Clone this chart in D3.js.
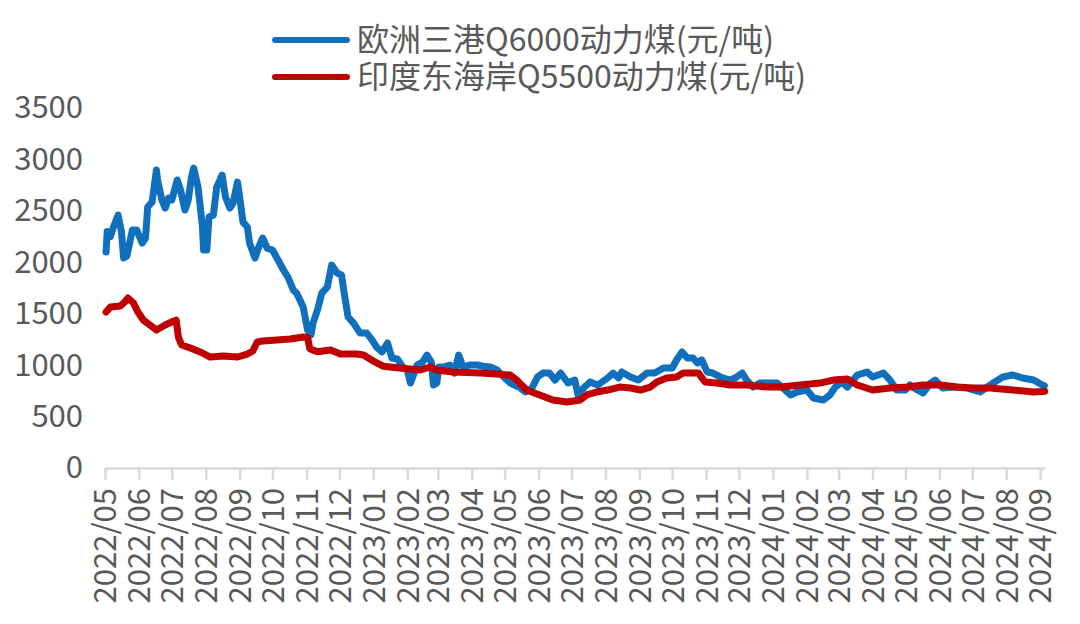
<!DOCTYPE html>
<html><head><meta charset="utf-8">
<script src="https://cdn.jsdelivr.net/npm/d3@7/dist/d3.min.js"></script>
<style>
html,body{margin:0;padding:0;background:#fff;}
svg{display:block;}
text{font-family:"Noto Sans CJK SC","Noto Sans",sans-serif;fill:#595959;}
</style></head>
<body><svg id="chart" width="1080" height="624"></svg>
<script>
const seriesNames = ["欧洲三港Q6000动力煤(元/吨)", "印度东海岸Q5500动力煤(元/吨)"];
const seriesColors = ["#1170BE", "#C00000"];
const yTicks = [0, 500, 1000, 1500, 2000, 2500, 3000, 3500];
const monthTicks = ["2022-05-01","2022-06-01","2022-07-01","2022-08-01","2022-09-01","2022-10-01","2022-11-01","2022-12-01",
"2023-01-01","2023-02-01","2023-03-01","2023-04-01","2023-05-01","2023-06-01","2023-07-01","2023-08-01","2023-09-01","2023-10-01","2023-11-01","2023-12-01",
"2024-01-01","2024-02-01","2024-03-01","2024-04-01","2024-05-01","2024-06-01","2024-07-01","2024-08-01","2024-09-01"];

const euroDates = ["2022-05-02","2022-05-03","2022-05-06","2022-05-08","2022-05-13","2022-05-16","2022-05-18","2022-05-21","2022-05-26","2022-05-30",
"2022-06-04","2022-06-07","2022-06-09","2022-06-13","2022-06-17","2022-06-18","2022-06-22","2022-06-25","2022-06-28",
"2022-07-01","2022-07-06","2022-07-09","2022-07-13","2022-07-16","2022-07-19","2022-07-21","2022-07-25","2022-07-29","2022-07-30",
"2022-08-02","2022-08-04","2022-08-08","2022-08-11","2022-08-16","2022-08-19","2022-08-23","2022-08-26","2022-08-30",
"2022-09-01","2022-09-04","2022-09-08","2022-09-10","2022-09-15","2022-09-18","2022-09-22","2022-09-26",
"2022-10-01","2022-10-06","2022-10-11","2022-10-15","2022-10-20","2022-10-23","2022-10-29",
"2022-11-02","2022-11-05","2022-11-07","2022-11-11","2022-11-15","2022-11-20","2022-11-24","2022-11-29",
"2022-12-03","2022-12-06","2022-12-09","2022-12-14","2022-12-20","2022-12-26","2022-12-31",
"2023-01-04","2023-01-09","2023-01-14","2023-01-18","2023-01-23","2023-01-28","2023-02-01",
"2023-02-04","2023-02-10","2023-02-15","2023-02-19","2023-02-23","2023-02-25","2023-02-28",
"2023-03-02","2023-03-06","2023-03-12","2023-03-16","2023-03-20","2023-03-24","2023-03-30",
"2023-04-06","2023-04-11","2023-04-18","2023-04-24","2023-04-30",
"2023-05-06","2023-05-14","2023-05-20","2023-05-26","2023-05-31",
"2023-06-05","2023-06-11","2023-06-16","2023-06-21","2023-06-28",
"2023-07-04","2023-07-07","2023-07-12","2023-07-18","2023-07-25",
"2023-08-03","2023-08-08","2023-08-13","2023-08-16","2023-08-24","2023-08-31",
"2023-09-08","2023-09-15","2023-09-23",
"2023-10-01","2023-10-05","2023-10-10","2023-10-15","2023-10-20","2023-10-24","2023-10-28",
"2023-11-02","2023-11-07","2023-11-16","2023-11-23","2023-11-29",
"2023-12-04","2023-12-08","2023-12-14","2023-12-20","2023-12-29",
"2024-01-05","2024-01-10","2024-01-17","2024-01-23",
"2024-02-01","2024-02-07","2024-02-16","2024-02-22","2024-02-27",
"2024-03-04","2024-03-09","2024-03-18","2024-03-27",
"2024-04-01","2024-04-11","2024-04-17","2024-04-23",
"2024-05-01","2024-05-05","2024-05-12","2024-05-17","2024-05-24","2024-05-28",
"2024-06-04","2024-06-14","2024-06-26",
"2024-07-08","2024-07-20","2024-07-29",
"2024-08-07","2024-08-16","2024-08-26","2024-09-03","2024-09-05"];
const euroValues = [2100,2300,2250,2320,2459,2300,2041,2060,2313,2313,
2187,2236,2537,2586,2897,2800,2605,2527,2625,
2605,2800,2702,2508,2605,2829,2916,2731,2343,2119,
2119,2440,2459,2731,2848,2634,2527,2576,2780,
2634,2391,2343,2187,2041,2138,2236,2138,
2119,2022,1925,1857,1730,1701,1565,
1341,1293,1409,1536,1701,1759,1973,1895,
1876,1662,1468,1409,1312,1312,1244,
1176,1128,1215,1069,1060,982,953,
826,1001,1030,1098,1030,807,826,
982,982,1001,923,1098,982,1001,
1001,990,982,953,885,
826,787,739,778,885,
923,923,855,923,826,
855,710,778,836,807,
875,923,875,933,885,855,
923,923,972,
972,1050,1128,1069,1069,1021,1050,
933,923,875,855,885,
923,855,787,826,826,
826,778,710,739,
758,680,661,710,787,
836,787,904,933,
885,923,855,758,
758,807,758,729,826,855,
778,787,778,
739,826,885,
904,875,855,807,800];

const indiaDates = ["2022-05-02","2022-05-06","2022-05-15","2022-05-19","2022-05-22","2022-05-27","2022-05-31",
"2022-06-05","2022-06-11","2022-06-17","2022-06-25","2022-07-01","2022-07-05","2022-07-07","2022-07-10","2022-07-18","2022-07-27",
"2022-08-05","2022-08-17","2022-08-30","2022-09-08","2022-09-13","2022-09-17","2022-09-22",
"2022-10-05","2022-10-17","2022-10-29","2022-11-02","2022-11-04","2022-11-11","2022-11-23",
"2022-12-02","2022-12-17","2022-12-23","2023-01-01","2023-01-10","2023-01-25",
"2023-02-13","2023-02-22","2023-02-28","2023-03-15","2023-04-09","2023-05-06","2023-05-12","2023-05-21",
"2023-06-02","2023-06-14","2023-06-27","2023-07-09","2023-07-15","2023-07-24",
"2023-08-03","2023-08-14","2023-08-24","2023-09-02","2023-09-11","2023-09-17","2023-09-26",
"2023-10-05","2023-10-11","2023-10-20","2023-10-25","2023-10-31","2023-11-11","2023-11-23",
"2023-12-08","2023-12-27","2024-01-08","2024-01-26","2024-02-13","2024-02-25",
"2024-03-09","2024-03-18","2024-04-01","2024-04-17","2024-05-03","2024-05-17",
"2024-06-02","2024-06-17","2024-07-02","2024-07-17","2024-08-07","2024-08-26","2024-09-05"];
const indiaValues = [1516,1565,1575,1614,1652,1604,1516,
1438,1390,1341,1390,1419,1438,1273,1196,1166,1128,
1079,1088,1079,1108,1137,1225,1234,
1244,1254,1273,1270,1160,1130,1147,
1108,1108,1098,1040,990,972,
953,982,953,933,923,904,855,758,
710,661,642,661,710,739,
758,787,778,758,787,836,875,
885,923,923,923,836,826,807,
807,787,787,807,826,855,
865,807,758,778,787,807,
807,787,778,778,758,739,745];

const parse = d3.timeParse("%Y-%m-%d");
const svg = d3.select("#chart");
const fontFam = '"Noto Sans CJK SC","Noto Sans",sans-serif';

const x = d3.scaleTime()
  .domain([parse("2022-05-01"), parse("2024-09-05")])
  .range([105, 1044.5]);
const y = d3.scaleLinear().domain([0, 3500]).range([468, 108]);

// y axis
const yAxis = svg.append("g").attr("transform", "translate(105,0)")
  .call(d3.axisLeft(y).tickValues(yTicks).tickFormat(d3.format("d")).tickSize(0).tickPadding(22));
yAxis.select(".domain").remove();
yAxis.selectAll("text").style("font-size", "31px").style("fill", "#595959")
  .style("font-family", fontFam);

// x axis
const xAxis = svg.append("g").attr("transform", "translate(0,468)")
  .call(d3.axisBottom(x).tickValues(monthTicks.map(parse))
    .tickFormat(d3.timeFormat("%Y/%m")).tickSize(12).tickSizeOuter(0));
xAxis.select(".domain").attr("stroke", "#d9d9d9").attr("stroke-width", 2.5);
xAxis.selectAll(".tick line").attr("stroke", "#d9d9d9").attr("stroke-width", 2.5);
xAxis.selectAll("text")
  .attr("transform", "rotate(-90)")
  .attr("x", -20).attr("y", 0).attr("dy", "0.35em")
  .attr("text-anchor", "end")
  .style("font-size", "31px").style("fill", "#595959")
  .style("font-family", fontFam);

// lines
const series = [
  {name: seriesNames[0], color: seriesColors[0], pts: euroDates.map((d, i) => [parse(d), euroValues[i]])},
  {name: seriesNames[1], color: seriesColors[1], pts: indiaDates.map((d, i) => [parse(d), indiaValues[i]])}
];
const line = d3.line().x(d => x(d[0])).y(d => y(d[1]));
series.forEach(s => {
  svg.append("path").datum(s.pts)
    .attr("fill", "none").attr("stroke", s.color).attr("stroke-width", 7)
    .attr("stroke-linejoin", "round").attr("stroke-linecap", "round")
    .attr("d", line);
});

// legend
const legend = svg.append("g");
series.forEach((s, i) => {
  const ly = 40 + i * 37;
  legend.append("line").attr("x1", 275).attr("x2", 347).attr("y1", ly).attr("y2", ly)
    .attr("stroke", s.color).attr("stroke-width", 6).attr("stroke-linecap", "round");
  legend.append("text").attr("x", 357).attr("y", ly).attr("dy", "0.35em")
    .style("font-size", "32px").style("font-family", fontFam).text(s.name);
});
</script></body></html>
